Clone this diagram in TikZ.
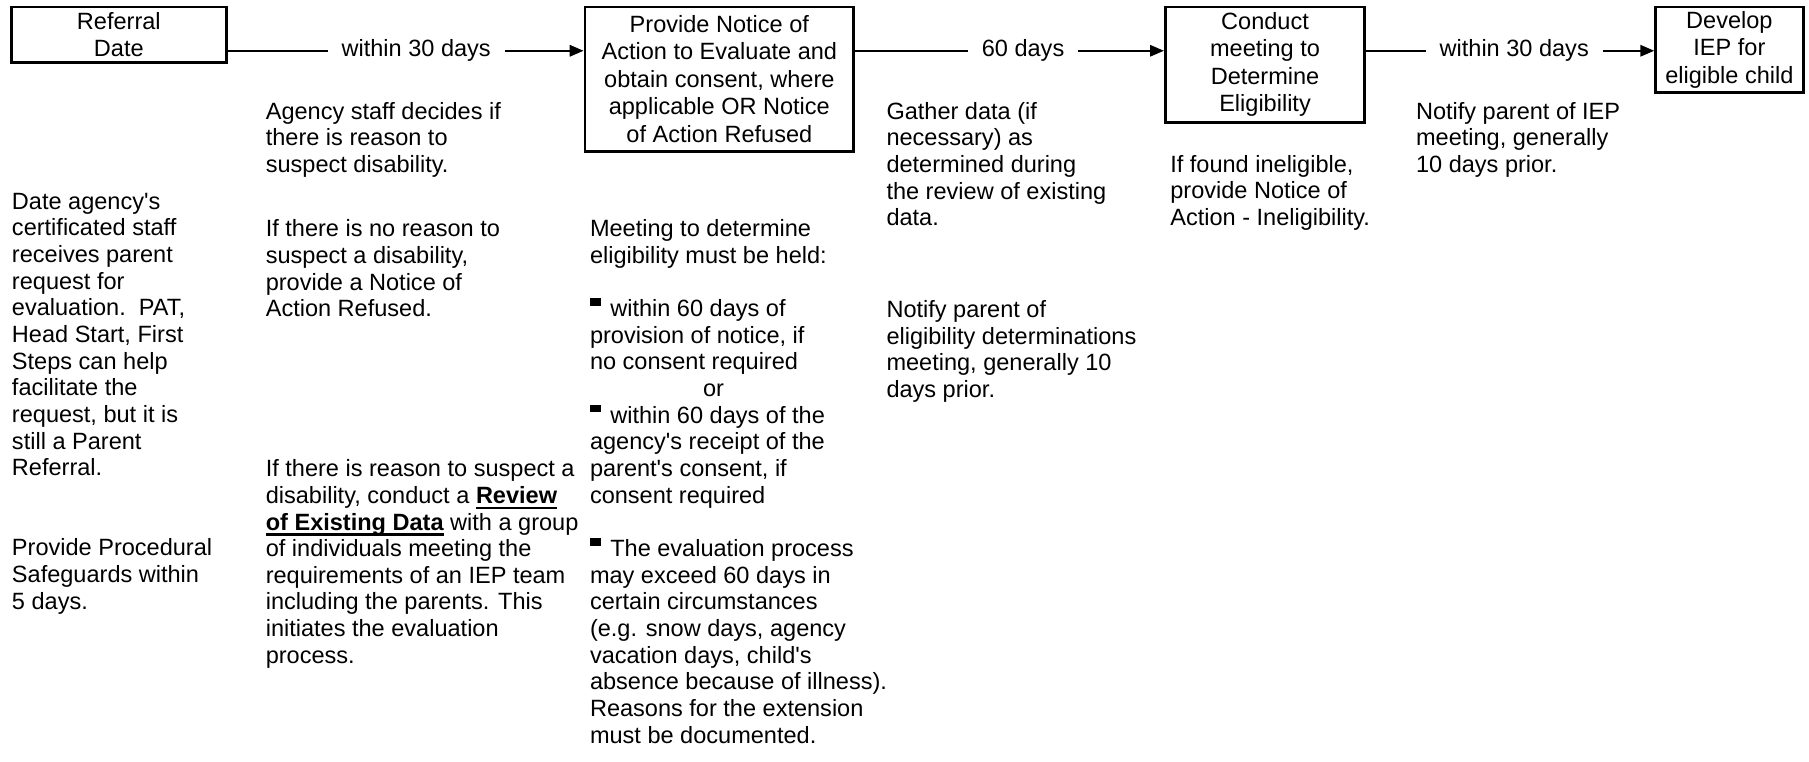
\documentclass[tikz,border=0pt]{standalone}
\usepackage{fontspec}
\newfontfamily\arial{Liberation Sans}
\usetikzlibrary{arrows.meta}
\newcommand{\sqbul}{\rule[4.7pt]{4.8pt}{3.4pt}\hspace{4pt}}
\newsavebox\myulbox
\newcommand{\myul}[1]{\sbox\myulbox{#1}\rlap{\rule[-2.5pt]{\wd\myulbox}{1pt}}\usebox\myulbox}
\begin{document}
\begin{tikzpicture}[x=0.5pt,y=-0.5pt,
  every node/.style={font=\arial\fontsize{10.2}{11.55}\selectfont, inner sep=0pt},
  stepbox/.style={draw, line width=1.2pt, align=center, font=\arial\fontsize{10.2}{11.9}\selectfont},
  coltext/.style={anchor=north west, align=left},
  conn/.style={line width=0.65pt, -{Triangle[length=6pt,width=5pt]}},
  lbl/.style={fill=white, inner xsep=6pt, inner ysep=2pt}]
\useasboundingbox (0,0) rectangle (1568,660);
% step boxes
\node[stepbox, minimum width=93pt, minimum height=24pt] (b1) at (103,30) {Referral\\Date};
\node[stepbox, minimum width=116.5pt, minimum height=62.5pt] (b2) at (623.5,68.5) {Provide Notice of\\Action to Evaluate and\\obtain consent, where\\applicable OR Notice\\of Action Refused};
\node[stepbox, minimum width=86.5pt, minimum height=50pt] (b3) at (1096.5,56) {Conduct\\meeting to\\Determine\\Eligibility};
\node[stepbox, minimum width=64pt, minimum height=37pt] (b4) at (1499,43) {Develop\\IEP for\\eligible child};
% connectors
\coordinate (ay) at (0,44);
\draw[conn] (b1.east |- ay) -- node[lbl, pos=0.53] (l1) {within 30 days} (b2.west |- ay);
\draw[conn] (b2.east |- ay) -- node[lbl, pos=0.544] (l2) {60 days} (b3.west |- ay);
\draw[conn] (b3.east |- ay) -- node[lbl, pos=0.514] (l3) {within 30 days} (b4.west |- ay);
% text columns
\node[coltext] (c1) at (10,167) {Date agency's\\certificated staff\\receives parent\\request for\\evaluation.\ \ PAT,\\Head Start, First\\Steps can help\\facilitate the\\request, but it is\\still a Parent\\Referral.\\[23.1pt]Provide Procedural\\Safeguards within\\5 days.};
\node[coltext] (c2a) at (230,88) {Agency staff decides if\\there is reason to\\suspect disability.};
\node[coltext] (c2b) at (230,190) {If there is no reason to\\suspect a disability,\\provide a Notice of\\Action Refused.};
\node[coltext] (c2c) at (230,398) {If there is reason to suspect a\\disability, conduct a \textbf{\myul{Review}}\\\textbf{\myul{of Existing Data}} with a group\\of individuals meeting the\\requirements of an IEP team\\including the parents. This\\initiates the evaluation\\process.};
\node[coltext] (c3) at (511,190) {Meeting to determine\\eligibility must be held:\\[11.55pt]\sqbul within 60 days of\\provision of notice, if\\no consent required\\\hspace*{49pt}or\\\sqbul within 60 days of the\\agency's receipt of the\\parent's consent, if\\consent required\\[11.55pt]\sqbul The evaluation process\\may exceed 60 days in\\certain circumstances\\(e.g. snow days, agency\\vacation days, child's\\absence because of illness).\\Reasons for the extension\\must be documented.};
\node[coltext] (c4a) at (768,88) {Gather data (if\\necessary) as\\determined during\\the review of existing\\data.};
\node[coltext] (c4b) at (768,260) {Notify parent of\\eligibility determinations\\meeting, generally 10\\days prior.};
\node[coltext] (c5) at (1014,134) {If found ineligible,\\provide Notice of\\Action - Ineligibility.};
\node[coltext] (c6) at (1227,88) {Notify parent of IEP\\meeting, generally\\10 days prior.};
\end{tikzpicture}
\end{document}
